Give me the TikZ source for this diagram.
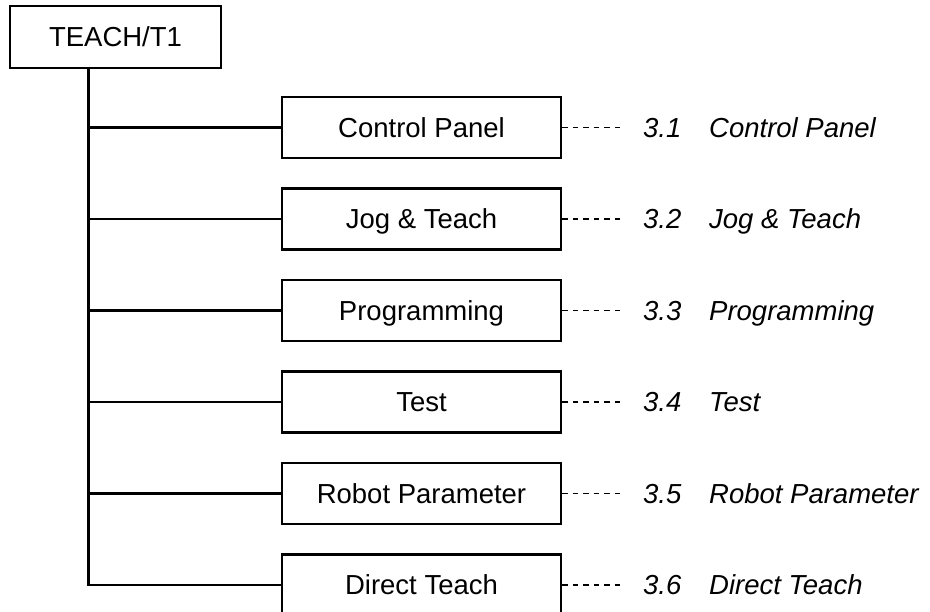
\documentclass[tikz,border=0pt]{standalone}
\usepackage{fontspec}
\setmainfont{Liberation Sans}
\begin{document}
\begin{tikzpicture}[x=1pt,y=-1pt,
  every node/.style={font=\fontsize{27.5}{33}\selectfont, inner sep=0pt, text height=19.7pt, text depth=0pt},
  box/.style={draw, line width=2.6pt, minimum height=61pt},
  subbox/.style={box, minimum width=279pt},
  conn/.style={line width=2.6pt},
  dashconn/.style={line width=1.6pt, dash pattern=on 5.5pt off 5pt},
  lbl/.style={anchor=west, font=\fontsize{27.5}{33}\selectfont\itshape}]
\useasboundingbox (0,0) rectangle (930,612);
\clip (0,0) rectangle (930,612);
\fill[white] (0,0) rectangle (930,612);

\node[box, minimum width=211pt, minimum height=62pt] (root) at (115.5,37) {TEACH/T1};

\node[subbox] (b1) at (421.5,127.5) {Control Panel};
\node[subbox] (b2) at (421.5,219) {Jog \& Teach};
\node[subbox] (b3) at (421.5,310.5) {Programming};
\node[subbox] (b4) at (421.5,402) {Test};
\node[subbox] (b5) at (421.5,493.5) {Robot Parameter};
\node[subbox] (b6) at (421.5,585) {Direct Teach};

\coordinate (t0) at ([xshift=80pt]root.south west);
\draw[conn] (t0) |- (b6.west);
\foreach \i in {1,...,5} {
  \draw[conn] (b\i.west -| t0) -- (b\i.west);
}

\node[lbl] (n1) at (643,127.5) {3.1};
\node[lbl] (n2) at (643,219) {3.2};
\node[lbl] (n3) at (643,310.5) {3.3};
\node[lbl] (n4) at (643,402) {3.4};
\node[lbl] (n5) at (643,493.5) {3.5};
\node[lbl] (n6) at (643,585) {3.6};

\node[lbl] (s1) at (709,127.5) {Control Panel};
\node[lbl] (s2) at (709,219) {Jog \& Teach};
\node[lbl] (s3) at (709,310.5) {Programming};
\node[lbl] (s4) at (709,402) {Test};
\node[lbl] (s5) at (709,493.5) {Robot Parameter};
\node[lbl] (s6) at (709,585) {Direct Teach};

\foreach \i in {1,...,6} {
  \draw[dashconn] (b\i.east) -- ([xshift=-18pt]n\i.west);
}
\end{tikzpicture}
\end{document}
